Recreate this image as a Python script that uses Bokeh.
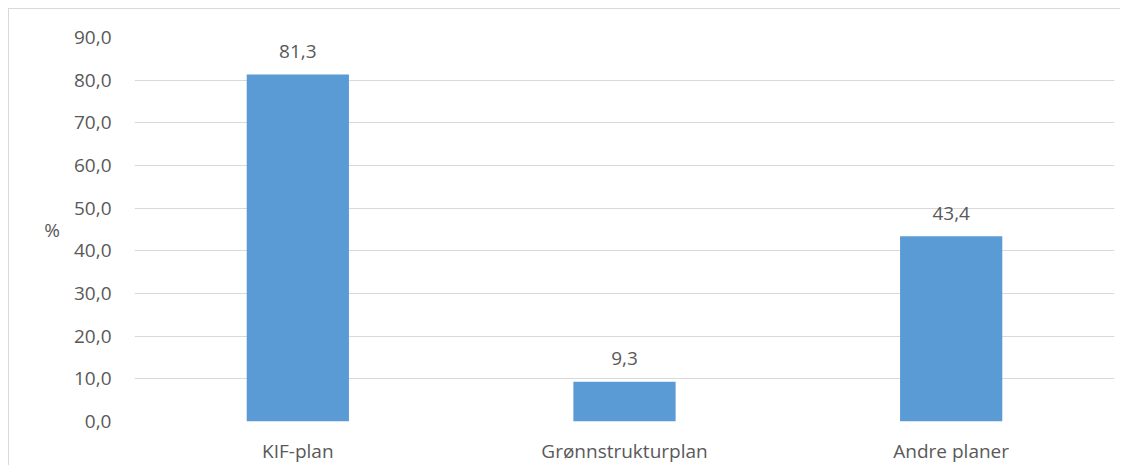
from bokeh.plotting import figure
from bokeh.models import ColumnDataSource, FixedTicker
from bokeh.core.properties import value
from bokeh.embed import file_html
from bokeh.resources import INLINE

categories = ["KIF-plan", "Grønnstrukturplan", "Andre planer"]
values = [81.3, 9.3, 43.4]
y_ticks = [0, 10, 20, 30, 40, 50, 60, 70, 80, 90]
y_tick_labels = ["0,0", "10,0", "20,0", "30,0", "40,0", "50,0", "60,0", "70,0", "80,0", "90,0"]
y_label = "%"

FONT = "Open Sans"
TXT = "#595959"
FS = "19px"

src = ColumnDataSource(dict(
    cat=categories,
    val=values,
    lbl=[f"{v:.1f}".replace(".", ",") for v in values],
))

p = figure(x_range=categories, y_range=(0, 90), width=1112, height=457,
           output_backend="svg", toolbar_location=None,
           min_border_left=125, min_border_top=28, min_border_bottom=43,
           min_border_right=7)
p.styles = {"border-top": "1px solid #d9d9d9", "border-left": "1px solid #d9d9d9",
            "margin": "8px 0 0 8px"}
p.outline_line_color = None
p.x_range.range_padding = 0

p.vbar(x="cat", top="val", width=0.313, source=src, color="#5b9bd5", line_color=None)
p.text(x="cat", y="val", text="lbl", source=src, text_align="center",
       text_baseline="alphabetic", y_offset=-23, text_font=value(FONT),
       text_font_size=FS, text_color=TXT)

p.xgrid.grid_line_color = None
p.ygrid.grid_line_color = "#d9d9d9"
p.ygrid.grid_line_width = 1
p.yaxis.ticker = FixedTicker(ticks=y_ticks)
p.yaxis.major_label_overrides = {t: l for t, l in zip(y_ticks, y_tick_labels)}

for ax in (p.xaxis[0], p.yaxis[0]):
    ax.axis_line_color = None
    ax.major_tick_line_color = None
    ax.minor_tick_line_color = None
    ax.major_label_text_font = FONT
    ax.major_label_text_font_size = FS
    ax.major_label_text_color = TXT

p.xaxis.major_label_standoff = 10
p.yaxis.major_label_standoff = 17
p.yaxis.axis_label = y_label
p.yaxis.axis_label_orientation = "horizontal"
p.yaxis.axis_label_standoff = 11
p.yaxis.axis_label_text_font = FONT
p.yaxis.axis_label_text_font_size = FS
p.yaxis.axis_label_text_font_style = "normal"
p.yaxis.axis_label_text_color = TXT

open("out.html", "w").write(file_html(p, INLINE))
